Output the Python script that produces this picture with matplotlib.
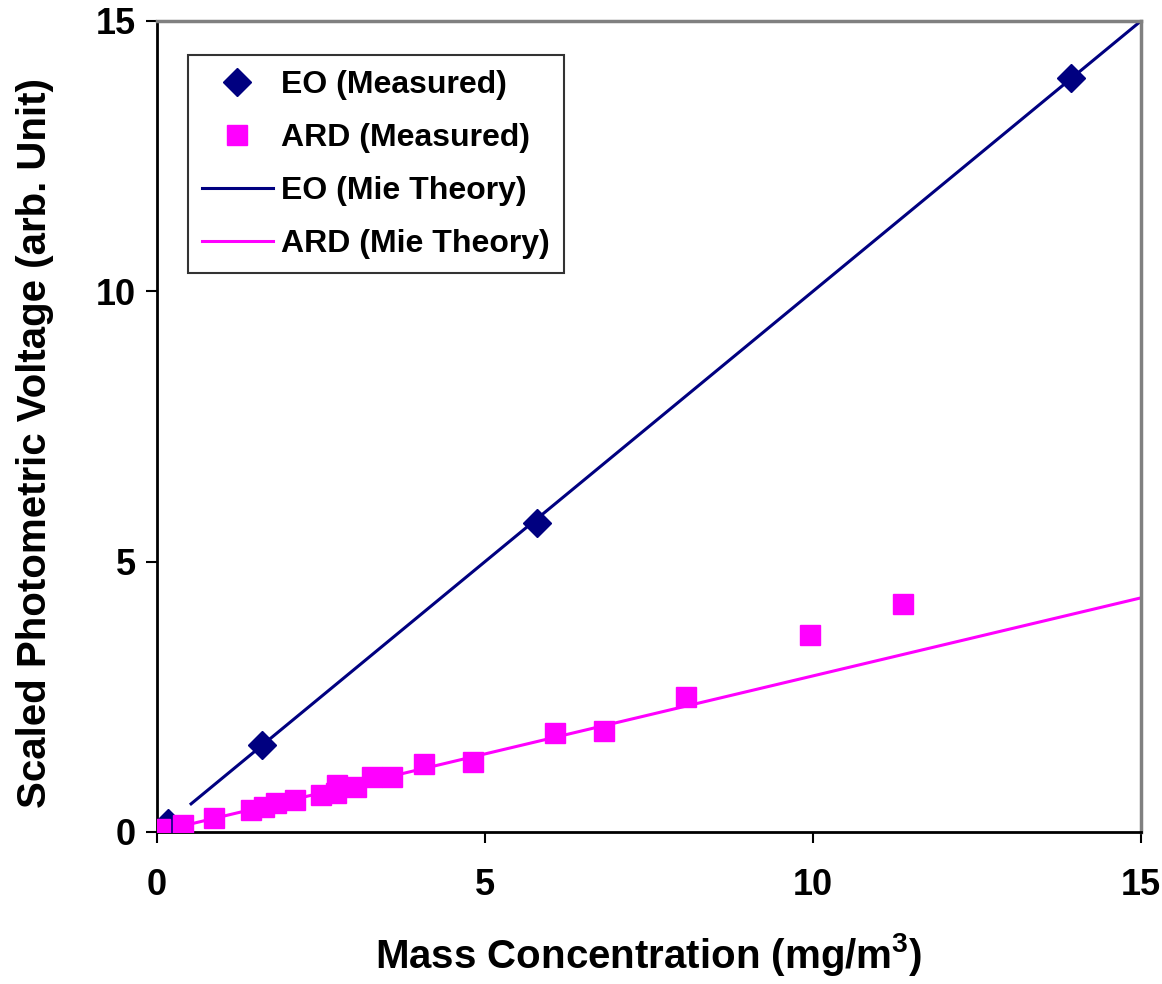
import matplotlib
matplotlib.use('Agg')
import matplotlib.pyplot as plt
import numpy as np

plt.rcParams['font.family'] = ['Liberation Sans', 'DejaVu Sans']
plt.rcParams['font.weight'] = 'bold'
plt.rcParams['mathtext.fontset'] = 'custom'
plt.rcParams['mathtext.bf'] = 'Liberation Sans:bold'
plt.rcParams['mathtext.rm'] = 'Liberation Sans:bold'

# measured data
eo_x = [0.17, 1.60, 5.79, 13.93]
eo_y = [0.17, 1.61, 5.71, 13.94]

ard_x = [0.04, 0.39, 0.87, 1.43, 1.63, 1.82, 2.10, 2.50, 2.73, 2.75, 3.04,
         3.28, 3.59, 4.07, 4.81, 6.07, 6.81, 8.07, 9.95, 11.37]
ard_y = [0.05, 0.13, 0.25, 0.41, 0.47, 0.53, 0.59, 0.68, 0.72, 0.87, 0.84,
         1.02, 1.02, 1.26, 1.30, 1.83, 1.87, 2.50, 3.64, 4.21]

# Mie theory lines (end points)
eo_mie_x = [0.52, 15.0]
eo_mie_y = [0.52, 15.0]
ard_mie_x = [0.0, 15.0]
ard_mie_y = [0.0, 4.33]

navy = '#000080'
magenta = '#FF00FF'

fig = plt.figure(figsize=(11.62, 9.84), dpi=100)
ax = fig.add_axes([0.1351, 0.1545, 0.8468, 0.8242])

l1, = ax.plot(eo_mie_x, eo_mie_y, color=navy, lw=2.2, label='EO (Mie Theory)', zorder=2)
l2, = ax.plot(ard_mie_x, ard_mie_y, color=magenta, lw=2.2, label='ARD (Mie Theory)', zorder=2)
m1, = ax.plot(eo_x, eo_y, 'D', color=navy, ms=14, ls='none', label='EO (Measured)', zorder=3)
m2, = ax.plot(ard_x, ard_y, 's', color=magenta, ms=14, ls='none', label='ARD (Measured)', zorder=4)

ax.set_xlim(0, 15)
ax.set_ylim(0, 15)
ax.set_xticks([0, 5, 10, 15])
ax.set_yticks([0, 5, 10, 15])
ax.tick_params(axis='x', direction='out', length=8, width=1.5, pad=18, labelsize=26)
ax.tick_params(axis='y', direction='out', length=8, width=1.5, pad=7, labelsize=26)

for s in ['left', 'bottom']:
    ax.spines[s].set_color('black')
    ax.spines[s].set_linewidth(2)
for s in ['top', 'right']:
    ax.spines[s].set_color('#808080')
    ax.spines[s].set_linewidth(2.5)

ax.set_xlabel(r'Mass Concentration (mg/m$^{\mathbf{3}}$)', fontsize=29, fontweight='bold', labelpad=20)
ax.set_ylabel('Scaled Photometric Voltage (arb. Unit)', fontsize=29, fontweight='bold')
ax.yaxis.set_label_coords(-0.105, 0.48)

leg = ax.legend(handles=[m1, m2, l1, l2], loc='upper left', bbox_to_anchor=(0.0315, 0.9575),
                frameon=True, fancybox=False, edgecolor='black',
                handlelength=2.2, borderpad=0.45, labelspacing=0.72, handletextpad=0.25,
                borderaxespad=0, prop={'weight': 'bold', 'size': 23})
leg.get_frame().set_linewidth(1.5)

fig.savefig('out.png', dpi=100)
